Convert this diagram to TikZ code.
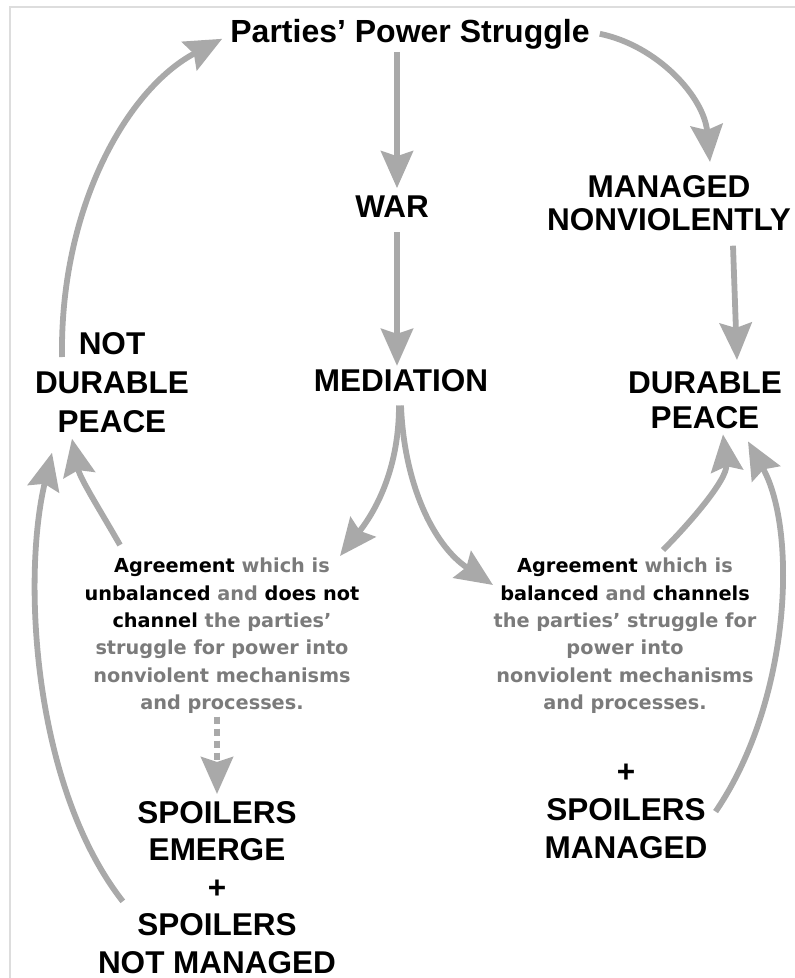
\documentclass[tikz,border=0pt]{standalone}
\usepackage{fontspec}
\setmainfont{Liberation Sans}
\newfontfamily\agrfont{DejaVu Sans}
\usepackage{tikz}
\usetikzlibrary{arrows.meta}
\definecolor{arrowgray}{HTML}{A9A9A9}
\definecolor{txtgray}{HTML}{7B7B7B}
\definecolor{framegray}{HTML}{DDDDDD}
\newcommand\hl[1]{\textcolor{black}{#1}}
\tikzset{
  lbl_big/.style = {align=center, inner sep=0pt, text=black,
    font=\fontsize{31.5}{38}\selectfont\bfseries},
  lbl_top/.style = {lbl_big, font=\fontsize{32}{38}\selectfont\bfseries},
  lbl_agr/.style = {align=center, inner sep=0pt, text=txtgray,
    font=\agrfont\fontsize{19.3}{27.3}\selectfont\bfseries},% agreement text
  flow/.style = {draw=arrowgray, line width=5.8pt,
    -{Stealth[length=37pt,width=32pt,inset=5pt]}},
  flow_dash/.style = {flow, dash pattern=on 7pt off 5pt}
}

\begin{document}
\begin{tikzpicture}[x=1pt,y=-1pt]
\useasboundingbox (0,0) rectangle (795,978);
\draw[framegray, line width=1.5pt] (10,985) -- (10,7) -- (800,7);
%
\node (power) [lbl_top, anchor=base] at (410,42) {Parties’ Power Struggle};
\node (war) [lbl_big, anchor=base] at (392,217) {WAR};
\node (mediation) [lbl_big, anchor=base] at (401,391) {MEDIATION};
\node (managed) [lbl_big, anchor=north, font=\fontsize{31.5}{33}\selectfont\bfseries]
  at (669,175) {MANAGED\\NONVIOLENTLY};
\node (notdurable) [lbl_big, anchor=north, font=\fontsize{31.5}{39}\selectfont\bfseries]
  at (112,332) {NOT\\DURABLE\\PEACE};
\node (durable) [lbl_big, anchor=north, font=\fontsize{31.5}{35}\selectfont\bfseries]
  at (705,372) {DURABLE\\PEACE};
\node (agr_bad) [lbl_agr, anchor=north] at (222,558)
  {\hl{Agreement} which is\\ \hl{unbalanced} and \hl{does not}\\
   \hl{channel} the parties’\\ struggle for power into\\
   nonviolent mechanisms\\ and processes.};
\node (agr_good) [lbl_agr, anchor=north] at (625,558)
  {\hl{Agreement} which is\\ \hl{balanced} and \hl{channels}\\
   the parties’ struggle for\\ power into\\
   nonviolent mechanisms\\ and processes.};
\node (spoil_bad) [lbl_big, anchor=north, font=\fontsize{31.5}{37.5}\selectfont\bfseries]
  at (217,801) {SPOILERS\\EMERGE\\+\\SPOILERS\\NOT MANAGED};
\node (spoil_good) [lbl_big, anchor=north] at (626,764)
  {+\\SPOILERS\\MANAGED};
%
\draw[flow] ([xshift=-13pt,yshift=-3pt]power.south) -- ([xshift=5pt,yshift=7pt]war.north);
\draw[flow] ([xshift=5pt,yshift=-15pt]war.south) -- ([xshift=-4pt,yshift=3pt]mediation.north);
\draw[flow] ([xshift=10pt]power.east) .. controls +(58,12) and +(-6,-65) .. ([xshift=41pt,yshift=13pt]managed.north);
\draw[flow] ([xshift=64pt,yshift=-15pt]managed.south) -- ([xshift=32pt,yshift=12pt]durable.north);
\draw[flow] ([xshift=-2pt,yshift=-14pt]mediation.south) .. controls +(0,60) and +(38,-48) .. ([xshift=118pt,yshift=2pt]agr_bad.north);
\draw[flow] ([xshift=0pt,yshift=-14pt]mediation.south) .. controls +(3,78) and +(-60,-40) .. ([xshift=-132pt,yshift=-27pt]agr_good.north);
\draw[flow] ([xshift=38pt,yshift=8pt]agr_good.north) .. controls +(25,-25) and +(5,45) .. ([xshift=18pt,yshift=-5pt]durable.south);
\draw[flow] ([xshift=8pt]spoil_good.east) .. controls +(75,-110) and +(50,90) .. ([xshift=43pt,yshift=-12pt]durable.south);
\draw[flow] ([xshift=-102pt,yshift=13pt]agr_bad.north) .. controls +(-20,-35) and +(8,40) .. ([xshift=-40pt,yshift=-6pt]notdurable.south);
\draw[flow] ([xshift=25pt,yshift=-14pt]spoil_bad.west) .. controls +(-90,-115) and +(-30,125) .. ([xshift=-60pt,yshift=-20pt]notdurable.south);
\draw[flow] ([xshift=-50pt,yshift=-25pt]notdurable.north) .. controls +(-2,-150) and +(-95,50) .. ([xshift=-8pt,yshift=-5pt]power.west);
\draw[flow_dash] ([xshift=-5pt,yshift=-3pt]agr_bad.south) -- ([yshift=7pt]spoil_bad.north);
\end{tikzpicture}
\end{document}
